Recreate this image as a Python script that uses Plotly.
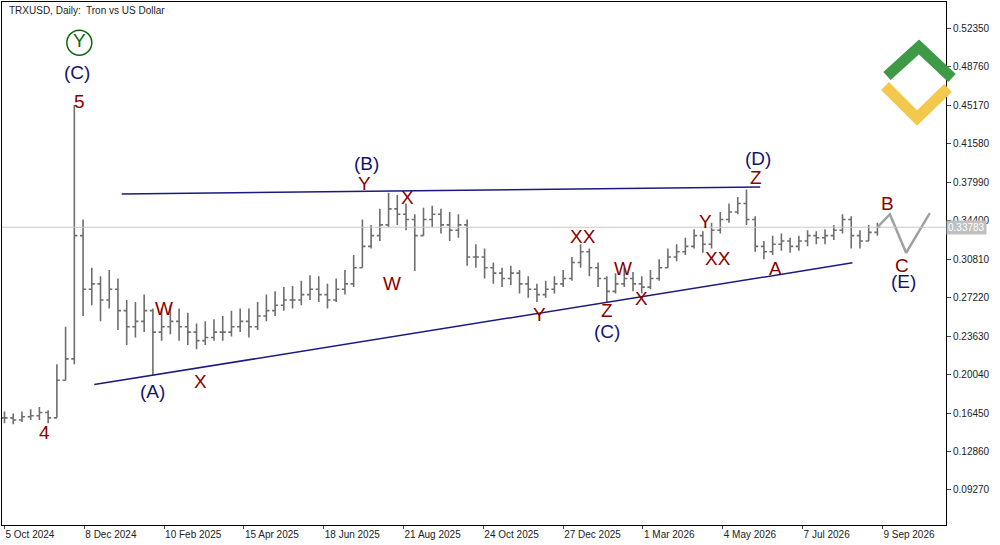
import plotly.graph_objects as go
import pandas as pd

start = "2024-10-05"
closes = [0.160,0.158,0.161,0.162,0.165,0.160,0.195,0.215,0.330,0.280,
          0.285,0.270,0.280,0.260,0.245,0.250,0.260,0.240,0.245,0.250,
          0.245,0.240,0.232,0.235,0.240,0.240,0.245,0.250,0.245,0.255,
          0.260,0.265,0.270,0.270,0.275,0.280,0.275,0.270,0.280,0.285,
          0.300,0.320,0.330,0.340,0.355,0.350,0.345,0.330,0.345,0.350,
          0.340,0.335,0.340,0.310,0.310,0.300,0.295,0.290,0.295,0.285,
          0.280,0.275,0.280,0.285,0.290,0.305,0.315,0.300,0.290,0.278,
          0.285,0.290,0.285,0.282,0.290,0.300,0.310,0.315,0.320,0.330,
          0.322,0.335,0.345,0.352,0.360,0.345,0.320,0.315,0.322,0.325,
          0.320,0.325,0.330,0.328,0.330,0.335,0.345,0.330,0.325,0.333,0.33783]
highs = [0.166,0.164,0.166,0.168,0.170,0.167,0.210,0.245,0.452,0.345,
         0.300,0.292,0.298,0.290,0.270,0.268,0.275,0.262,0.262,0.265,
         0.262,0.258,0.248,0.250,0.252,0.255,0.260,0.262,0.262,0.268,
         0.275,0.278,0.282,0.283,0.288,0.293,0.292,0.285,0.290,0.298,
         0.312,0.345,0.340,0.355,0.370,0.368,0.360,0.350,0.356,0.358,
         0.355,0.352,0.350,0.345,0.322,0.318,0.305,0.300,0.302,0.298,
         0.292,0.285,0.288,0.292,0.298,0.310,0.322,0.318,0.305,0.292,
         0.295,0.300,0.296,0.292,0.298,0.308,0.318,0.322,0.328,0.336,
         0.334,0.342,0.352,0.360,0.366,0.373,0.348,0.325,0.330,0.332,
         0.328,0.330,0.335,0.334,0.336,0.340,0.350,0.348,0.335,0.340,0.342]
lows = [0.155,0.154,0.156,0.158,0.158,0.155,0.160,0.195,0.210,0.255,
        0.265,0.250,0.262,0.242,0.228,0.235,0.240,0.200,0.232,0.238,
        0.232,0.228,0.224,0.228,0.232,0.232,0.236,0.240,0.235,0.242,
        0.250,0.255,0.260,0.262,0.265,0.270,0.268,0.262,0.268,0.275,
        0.282,0.300,0.318,0.325,0.338,0.340,0.335,0.297,0.330,0.338,
        0.332,0.325,0.328,0.302,0.300,0.290,0.285,0.282,0.284,0.276,
        0.272,0.268,0.272,0.276,0.282,0.288,0.300,0.292,0.282,0.268,
        0.276,0.282,0.278,0.276,0.280,0.288,0.300,0.306,0.312,0.318,
        0.314,0.318,0.332,0.342,0.350,0.340,0.315,0.308,0.312,0.316,
        0.314,0.316,0.320,0.322,0.322,0.326,0.332,0.318,0.318,0.325,0.330]
dates = pd.date_range(start, periods=len(closes), freq="7D")
opens = [closes[0]] + closes[:-1]

upper_x = ["2025-01-07", "2026-06-03"]; upper_y = [0.3688, 0.3753]
lower_x = ["2024-12-16", "2026-08-16"]; lower_y = [0.191, 0.3046]
fc_x = [str(dates[-1].date()), "2026-09-15", "2026-09-28", "2026-10-17"]
fc_y = [0.33783, 0.350, 0.314, 0.351]

yticks = [0.52350,0.48760,0.45170,0.41580,0.37990,0.34400,0.30810,0.27220,
          0.23630,0.20040,0.16450,0.12860,0.09270]
xtick_dates = ["2024-10-05","2024-12-08","2025-02-10","2025-04-15","2025-06-18",
               "2025-08-21","2025-10-24","2025-12-27","2026-03-01","2026-05-04",
               "2026-07-07","2026-09-09"]
xtick_text = ["5 Oct 2024","8 Dec 2024","10 Feb 2025","15 Apr 2025","18 Jun 2025",
              "21 Aug 2025","24 Oct 2025","27 Dec 2025","1 Mar 2026","4 May 2026",
              "7 Jul 2026","9 Sep 2026"]
RED = "#8b0000"; NAVY = "#14146e"
labels = [  # (text, date, price, color)
    ("(C)","2024-12-02",0.482,NAVY),("5","2024-12-04",0.455,RED),
    ("4","2024-11-06",0.146,RED),("W","2025-02-10",0.262,RED),
    ("(A)","2025-02-01",0.185,NAVY),("X","2025-03-11",0.194,RED),
    ("(B)","2025-07-22",0.397,NAVY),("Y","2025-07-21",0.379,RED),
    ("X","2025-08-24",0.366,RED),("W","2025-08-12",0.285,RED),
    ("Y","2025-12-08",0.256,RED),("XX","2026-01-12",0.329,RED),
    ("W","2026-02-13",0.299,RED),("Z","2026-01-31",0.260,RED),
    ("(C)","2026-01-31",0.241,NAVY),("X","2026-02-28",0.271,RED),
    ("Y","2026-04-20",0.343,RED),("XX","2026-04-30",0.309,RED),
    ("(D)","2026-06-01",0.402,NAVY),("Z","2026-05-31",0.384,RED),
    ("A","2026-06-15",0.299,RED),("B","2026-09-13",0.360,RED),
    ("C","2026-09-25",0.302,RED),("(E)","2026-09-26",0.287,NAVY),
]

fig = go.Figure()
fig.add_trace(go.Ohlc(x=dates, open=opens, high=highs, low=lows, close=closes,
                      increasing_line_color="#6e6e6e", decreasing_line_color="#6e6e6e",
                      line_width=1.6, tickwidth=0.35, showlegend=False, hoverinfo="skip"))
fig.add_trace(go.Scatter(x=upper_x, y=upper_y, mode="lines", line=dict(color="#1a1a80", width=1.5), showlegend=False))
fig.add_trace(go.Scatter(x=lower_x, y=lower_y, mode="lines", line=dict(color="#1a1a80", width=1.5), showlegend=False))
fig.add_trace(go.Scatter(x=fc_x, y=fc_y, mode="lines", line=dict(color="#a0a0a0", width=2.5), showlegend=False))
fig.add_trace(go.Scatter(x=["2024-12-04"], y=[0.510], mode="markers+text", text=["Y"],
                         textposition="middle center",
                         textfont=dict(size=19, color="#0a6a0a", family="Liberation Sans"),
                         marker=dict(symbol="circle-open", size=25, color="#0a6a0a", line=dict(width=1.5)),
                         showlegend=False))
for t, d, p, c in labels:
    fig.add_annotation(x=d, y=p, text=t, showarrow=False,
                       font=dict(size=19, color=c, family="Liberation Sans"))

last = closes[-1]
fig.add_hline(y=last, line=dict(color="#c8c8c8", width=1))
fig.add_annotation(xref="paper", x=1.0, xanchor="left", y=last, text=f"{last:.5f}",
                   showarrow=False, bgcolor="#c0c0c0", font=dict(size=10, color="white", family="Liberation Sans"))
fig.add_annotation(xref="paper", yref="paper", x=0.005, y=0.998, xanchor="left", yanchor="top",
                   text="TRXUSD, Daily:  Tron vs US Dollar", showarrow=False,
                   font=dict(size=10, color="#222", family="Liberation Sans"))

def px(x, y):
    return (x - 2) / 944, 1 - (y - 2) / 523
gx = [px(887, 76), px(919, 47), px(952, 78)]
yx = [px(885, 86), px(917, 118), px(948, 88)]
fig.add_shape(type="path", xref="paper", yref="paper",
              path="M %f %f L %f %f L %f %f" % (gx[0] + gx[1] + gx[2]),
              line=dict(color="#3f9a45", width=11))
fig.add_shape(type="path", xref="paper", yref="paper",
              path="M %f %f L %f %f L %f %f" % (yx[0] + yx[1] + yx[2]),
              line=dict(color="#f2c94c", width=11))

fig.update_layout(width=1000, height=545, paper_bgcolor="white", plot_bgcolor="white",
                  margin=dict(l=2, r=54, t=2, b=20),
                  font=dict(family="Liberation Sans", size=10, color="#222"),
                  xaxis=dict(range=["2024-10-03", "2026-10-30"], rangeslider=dict(visible=False),
                             tickvals=xtick_dates, ticktext=xtick_text, showgrid=False,
                             ticklabelposition="outside right",
                             ticks="outside", ticklen=3, showline=True, linecolor="black", mirror=True,
                             tickfont=dict(size=10)),
                  yaxis=dict(range=[0.060, 0.548], side="right", tickvals=yticks,
                             ticktext=[f"{v:.5f}" for v in yticks], showgrid=False,
                             ticks="outside", ticklen=4, showline=True, linecolor="black", mirror=True,
                             tickfont=dict(size=10)))
fig.write_html("out.html", config={"displayModeBar": False},
               post_script="document.body.style.margin='0';document.body.style.overflow='hidden';")
